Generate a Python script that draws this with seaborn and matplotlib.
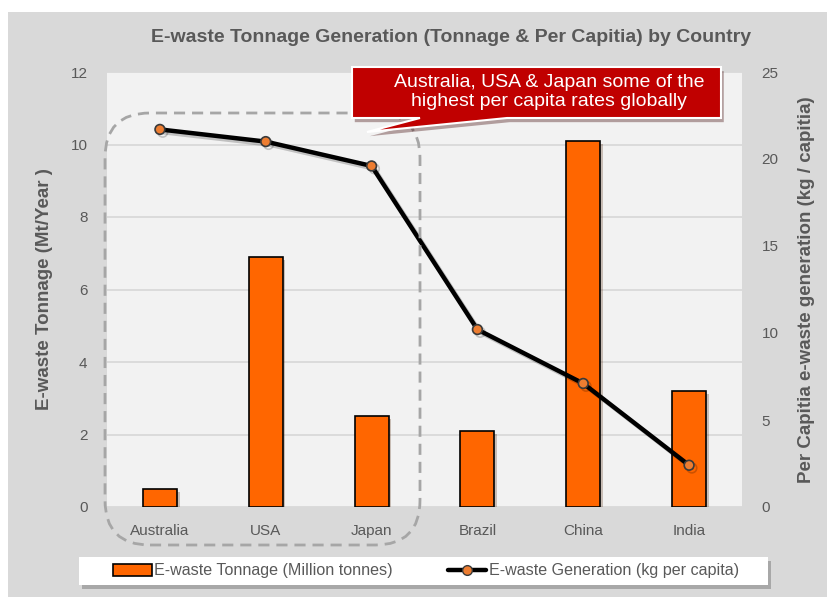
import pandas as pd
import matplotlib
matplotlib.use('Agg')
import matplotlib.pyplot as plt
import seaborn as sns
from matplotlib.patches import Rectangle, FancyBboxPatch, Polygon
from matplotlib.lines import Line2D
import matplotlib.patheffects as pe

# data
countries = ['Australia', 'USA', 'Japan', 'Brazil', 'China', 'India']
tonnage = [0.5, 6.9, 2.5, 2.1, 10.1, 3.2]        # Mt / year
per_capita = [21.7, 21.0, 19.6, 10.2, 7.1, 2.4]  # kg / capita

df = pd.DataFrame({'country': countries, 'tonnage': tonnage, 'per_capita': per_capita})

sns.set_style('white')
plt.rcParams['font.family'] = ['Liberation Sans', 'DejaVu Sans']

txt = '#595959'
bar_col = '#ff6600'
dot_col = '#ed7d31'

fig = plt.figure(figsize=(8.27, 5.97), dpi=100)
fig.patch.set_facecolor('white')
inch = fig.dpi_scale_trans
# grey chart area (white strip on top and left like the screenshot)
fig.add_artist(Rectangle((8 / 827, 0), 1, (597 - 12) / 597, transform=fig.transFigure,
                         facecolor='#d9d9d9', edgecolor='none', zorder=-5))

ax = fig.add_axes([107 / 827, 1 - 507 / 597, (742 - 107) / 827, (507 - 72) / 597])
ax.set_facecolor('#f2f2f2')

sns.barplot(data=df, x='country', y='tonnage', ax=ax, color=bar_col, saturation=1,
            edgecolor='black', linewidth=1.2, width=0.32, zorder=3)
for p in ax.patches:
    p.set_path_effects([pe.SimplePatchShadow(offset=(2, -2), alpha=0.25), pe.Normal()])

ax.set_ylim(0, 12)
ax.set_xlim(-0.5, 5.5)
ax.set_yticks(range(0, 13, 2))
ax.yaxis.grid(True, color='#d9d9d9', linewidth=1.3, zorder=0)
ax.set_axisbelow(True)
ax.set_xlabel('')
ax.set_ylabel('E-waste Tonnage (Mt/Year )', fontsize=13.5, fontweight='bold', color=txt, labelpad=13)
ax.tick_params(axis='both', length=0, labelsize=11, labelcolor=txt)
ax.tick_params(axis='y', pad=14)
ax.tick_params(axis='x', pad=12)
for s in ax.spines.values():
    s.set_visible(False)

ax2 = ax.twinx()
sns.pointplot(data=df, x='country', y='per_capita', ax=ax2, color='black', markers='o',
              linewidth=3.2, markersize=7, markerfacecolor=dot_col, markeredgecolor='#3a3a3a',
              markeredgewidth=1.2, errorbar=None, zorder=5)
for ln in ax2.lines:
    ln.set_path_effects([pe.SimpleLineShadow(offset=(2, -2), alpha=0.2), pe.Normal()])
ax2.set_ylim(0, 25)
ax2.set_xlim(-0.5, 5.5)
ax2.set_yticks(range(0, 26, 5))
ax2.set_xlabel('')
ax2.set_ylabel('Per Capitia e-waste generation (kg / capitia)', fontsize=13.5, fontweight='bold',
               color=txt, labelpad=14)
ax2.tick_params(axis='y', length=0, labelsize=11, labelcolor=txt, pad=14)
ax2.grid(False)
for s in ax2.spines.values():
    s.set_visible(False)

fig.text(451 / 827, 1 - 38 / 597, 'E-waste Tonnage Generation (Tonnage & Per Capitia) by Country',
         ha='center', va='center', fontsize=14, fontweight='bold', color=txt)

# dashed rounded box around the three high per-capita countries
box = FancyBboxPatch((1.05, 0.52), 4.20 - 1.05, 4.84 - 0.52,
                     boxstyle='round,pad=0,rounding_size=0.45', transform=inch,
                     facecolor='none', edgecolor='#a6a6a6', linewidth=2,
                     linestyle=(0, (4, 2.5)), zorder=10)
fig.add_artist(box)

# red callout
pts = [(352, 67), (721, 67), (721, 118), (507, 118), (367, 132), (420, 118), (352, 118)]
callout = Polygon([(x / 100, (597 - y) / 100) for x, y in pts], closed=True, transform=inch,
                  facecolor='#c00000', edgecolor='white', linewidth=1.5, zorder=11,
                  path_effects=[pe.SimplePatchShadow(offset=(2, -3), alpha=0.35), pe.Normal()])
fig.add_artist(callout)
fig.text(549 / 827, (597 - 92) / 597, 'Australia, USA & Japan some of the\nhighest per capita rates globally',
         ha='center', va='center', fontsize=14, color='white', linespacing=1.12, zorder=12)

# legend: white panel with shadow, legend itself without frame
fig.add_artist(Rectangle((0.79, (597 - 585) / 100), 7.68 - 0.79, 0.28, transform=inch,
                         facecolor='white', edgecolor='none', zorder=8,
                         path_effects=[pe.SimplePatchShadow(offset=(2, -3), alpha=0.35), pe.Normal()]))
handles = [Rectangle((0, 0), 1, 1, facecolor=bar_col, edgecolor='black', linewidth=1.2),
           Line2D([], [], color='black', linewidth=3.2, marker='o', markersize=7,
                  markerfacecolor=dot_col, markeredgecolor='#3a3a3a')]
leg = fig.legend(handles, ['E-waste Tonnage (Million tonnes)', 'E-waste Generation (kg per capita)'],
                 loc='center', bbox_to_anchor=(426 / 827, 1 - 571 / 597), ncol=2, frameon=False,
                 fontsize=11.6, handlelength=2.4, handletextpad=0.15,
                 columnspacing=3.4, borderpad=0.2, borderaxespad=0)
leg.set_zorder(9)
for t in leg.get_texts():
    t.set_color(txt)

fig.savefig('out.png', dpi=100)
